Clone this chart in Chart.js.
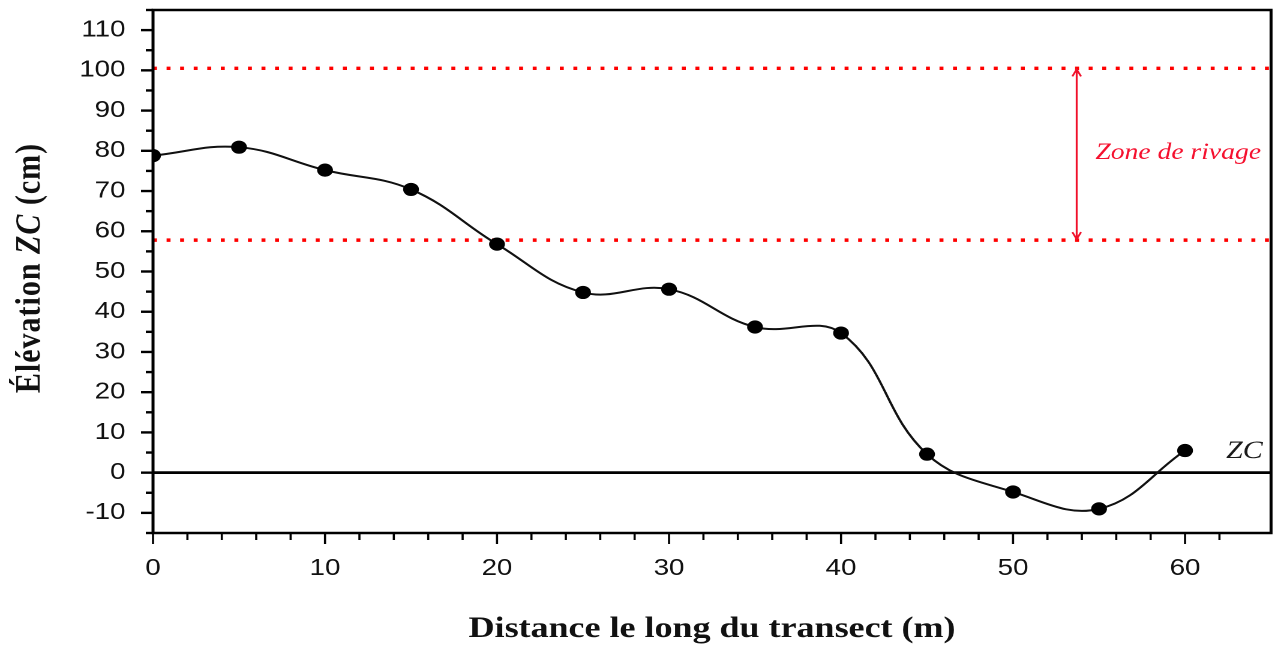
<!DOCTYPE html>
<html><head><meta charset="utf-8">
<script src="https://cdn.jsdelivr.net/npm/chart.js@4.4.1/dist/chart.umd.min.js"></script>
<style>
html,body{margin:0;padding:0;background:#fff;overflow:hidden}
#wrap{position:absolute;left:0;top:0;width:1064px;height:649px;transform:scaleX(1.2);transform-origin:0 0}
</style></head><body>
<div id="wrap"><canvas id="c"></canvas></div>
<script>
// ---- data ----
const distances = [0, 5, 10, 15, 20, 25, 30, 35, 40, 45, 50, 55, 60];
const elevations = [78.8, 80.9, 75.2, 70.4, 56.8, 44.8, 45.6, 36.2, 34.7, 4.6, -4.8, -9.0, 5.5];
const shoreTop = 100.5;
const shoreBottom = 57.8;
const zeroLevel = 0;
const xRange = [0, 65];
const yRange = [-15, 115];
const xTickLabels = [0, 10, 20, 30, 40, 50, 60];
const yTickLabels = [-10, 0, 10, 20, 30, 40, 50, 60, 70, 80, 90, 100, 110];
const arrowX = 53.7;
const zoneLabel = 'Zone de rivage';
const zoneLabelPos = [59.6, 79.5];
const zcLabel = 'ZC';
const zcLabelPos = [63.45, 5.3];
const xTitle = 'Distance le long du transect (m)';
const yTitleParts = [['Élévation ', false], ['ZC', true], [' (cm)', false]];

const points = distances.map((d, i) => ({x: d, y: elevations[i]}));
const hline = v => [{x: xRange[0], y: v}, {x: xRange[1], y: v}];

const decor = {
  id: 'decor',
  afterDraw(chart) {
    const {ctx, chartArea: a, scales: {x, y}} = chart;
    ctx.save();
    ctx.strokeStyle = '#000';
    // y ticks
    ctx.lineWidth = 2.4;
    y.ticks.forEach(t => {
      const v = t.value;
      if (Math.abs(v % 5) > 1e-9) return;
      const py = y.getPixelForValue(v);
      const len = (Math.abs(v % 10) < 1e-9) ? 10 : 6;
      ctx.beginPath(); ctx.moveTo(a.left - len, py); ctx.lineTo(a.left, py); ctx.stroke();
    });
    // x ticks
    ctx.lineWidth = 1.8;
    x.ticks.forEach(t => {
      const v = t.value;
      if (Math.abs(v % 2) > 1e-9) return;
      const px = x.getPixelForValue(v);
      const len = (Math.abs(v % 10) < 1e-9) ? 11 : 7;
      ctx.beginPath(); ctx.moveTo(px, a.bottom); ctx.lineTo(px, a.bottom + len); ctx.stroke();
    });
    // frame
    ctx.lineWidth = 2.5;
    ctx.strokeRect(a.left, a.top, a.right - a.left, a.bottom - a.top);

    // arrow
    const ax = x.getPixelForValue(arrowX);
    const y1 = y.getPixelForValue(shoreTop) + 1;
    const y2 = y.getPixelForValue(shoreBottom) - 1;
    ctx.strokeStyle = '#f0102a';
    ctx.lineWidth = 1.6;
    ctx.beginPath(); ctx.moveTo(ax, y1); ctx.lineTo(ax, y2); ctx.stroke();
    ctx.beginPath();
    ctx.moveTo(ax - 3.6, y1 + 7); ctx.lineTo(ax, y1); ctx.lineTo(ax + 3.6, y1 + 7);
    ctx.moveTo(ax - 3.6, y2 - 7); ctx.lineTo(ax, y2); ctx.lineTo(ax + 3.6, y2 - 7);
    ctx.stroke();

    // zone label
    ctx.fillStyle = '#f5102e';
    ctx.font = "italic 23px 'Liberation Serif', serif";
    ctx.textAlign = 'center'; ctx.textBaseline = 'middle';
    ctx.fillText(zoneLabel, x.getPixelForValue(zoneLabelPos[0]), y.getPixelForValue(zoneLabelPos[1]));

    // ZC label
    ctx.fillStyle = '#1a1a1a';
    ctx.font = "italic 25px 'Liberation Serif', serif";
    ctx.fillText(zcLabel, x.getPixelForValue(zcLabelPos[0]), y.getPixelForValue(zcLabelPos[1]));

    // x title
    ctx.fillStyle = '#111';
    ctx.font = "bold 30px 'Liberation Serif', serif";
    ctx.fillText(xTitle, (a.left + a.right) / 2, 629);

    // y title (rotated, mixed italic)
    ctx.translate(25, 268);
    ctx.rotate(-Math.PI / 2);
    ctx.letterSpacing = '1px';
    ctx.textAlign = 'left';
    const fonts = yTitleParts.map(p => p[1] ? "italic bold 30px 'Liberation Serif', serif" : "bold 30px 'Liberation Serif', serif");
    let total = 0;
    const widths = yTitleParts.map((p, i) => { ctx.font = fonts[i]; const w = ctx.measureText(p[0]).width; total += w; return w; });
    let cx = -total / 2;
    yTitleParts.forEach((p, i) => { ctx.font = fonts[i]; ctx.fillText(p[0], cx, 0); cx += widths[i]; });
    ctx.restore();
  }
};

new Chart(document.getElementById('c'), {
  type: 'line',
  data: {
    datasets: [
      {data: points, borderColor: '#111', backgroundColor: '#000', borderWidth: 2, tension: 0.4,
       pointRadius: 6.6, pointHoverRadius: 6.6, pointBackgroundColor: '#000', pointBorderWidth: 0, order: 0},
      {data: hline(zeroLevel), borderColor: '#000', borderWidth: 2.8, pointRadius: 0, order: 1},
      {data: hline(shoreTop), borderColor: '#ff0000', borderWidth: 3.4, borderDash: [3.3, 8], pointRadius: 0, order: 2},
      {data: hline(shoreBottom), borderColor: '#ff0000', borderWidth: 3.4, borderDash: [3.3, 8], pointRadius: 0, order: 2}
    ]
  },
  options: {
    responsive: true, maintainAspectRatio: false, animation: false,
    devicePixelRatio: 2,
    layout: {padding: {top: 10, right: 4.8, left: 0, bottom: 0}, autoPadding: false},
    plugins: {legend: {display: false}, tooltip: {enabled: false}},
    scales: {
      x: {
        type: 'linear', min: xRange[0], max: xRange[1],
        grid: {display: false, drawTicks: false}, border: {display: false},
        ticks: {stepSize: 2, autoSkip: false, maxRotation: 0, padding: 22, color: '#111',
          font: {family: "'Liberation Sans', Arial, sans-serif", size: 23},
          callback: v => xTickLabels.includes(v) ? String(v) : ''},
        afterFit: s => { s.height = 116; s.paddingLeft = 0; s.paddingRight = 0; }
      },
      y: {
        type: 'linear', min: yRange[0], max: yRange[1],
        grid: {display: false, drawTicks: false}, border: {display: false},
        ticks: {stepSize: 5, autoSkip: false, padding: 23, color: '#111',
          font: {family: "'Liberation Sans', Arial, sans-serif", size: 23},
          callback: v => yTickLabels.includes(v) ? String(v) : ''},
        afterFit: s => { s.width = 127.5; s.paddingTop = 0; s.paddingBottom = 0; }
      }
    }
  },
  plugins: [decor]
});
</script>
</body></html>
